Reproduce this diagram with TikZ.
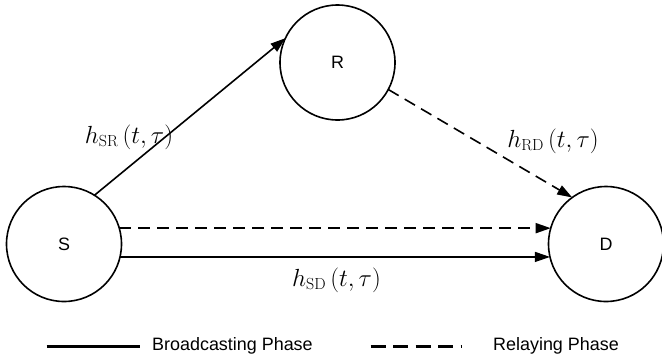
\documentclass[tikz,border=0pt]{standalone}
\usepackage{fontspec}
\setsansfont{Liberation Sans}
\usetikzlibrary{arrows.meta}
\begin{document}
\begin{tikzpicture}[x=1bp,y=-1bp,
  station/.style={circle,draw,line width=1.6bp,minimum size=115bp,inner sep=0pt,outer sep=0pt,
    font=\sffamily\fontsize{18}{20}\selectfont},
  link/.style={line width=1.6bp,-{Triangle[length=15bp,width=10bp]}},
  relay/.style={link,dash pattern=on 12bp off 7bp},
  chan/.style={inner sep=0pt,font=\fontsize{23}{27}\selectfont},
  legtext/.style={inner sep=0pt,anchor=west,font=\sffamily\fontsize{18}{20}\selectfont},
  legline/.style={line width=3bp}]
\useasboundingbox (0,0) rectangle (662,362);
\node[station] (S) at (64,244) {S};
\node[station] (R) at (337.5,62.5) {R};
\node[station] (D) at (606,244) {D};

\draw[link] (S.58) -- (R.155);
\draw[relay] (R.-28) -- (D.126);
\draw[relay] (S.16) -- (D.164);
\draw[link,line width=1.2bp] (S.-13.5) -- (D.193.5);

\node[chan] (lsr) at (129,137) {$h_{\mathrm{SR}}\left(t,\tau\right)$};
\node[chan] (lrd) at (553,141) {$h_{\mathrm{RD}}\left(t,\tau\right)$};
\node[chan] (lsd) at (336.5,280) {$h_{\mathrm{SD}}\left(t,\tau\right)$};

\coordinate (b1) at (46.5,346);
\coordinate (b2) at (139.5,346);
\draw[legline] (b1) -- (b2);
\node[legtext] (bt) at (152,346) {Broadcasting Phase};
\coordinate (r1) at (370.5,346);
\coordinate (r2) at (461.5,346);
\draw[legline,dash pattern=on 15bp off 7.5bp] (r1) -- (r2);
\node[legtext] (rt) at (493,346) {Relaying Phase};
\end{tikzpicture}
\end{document}
